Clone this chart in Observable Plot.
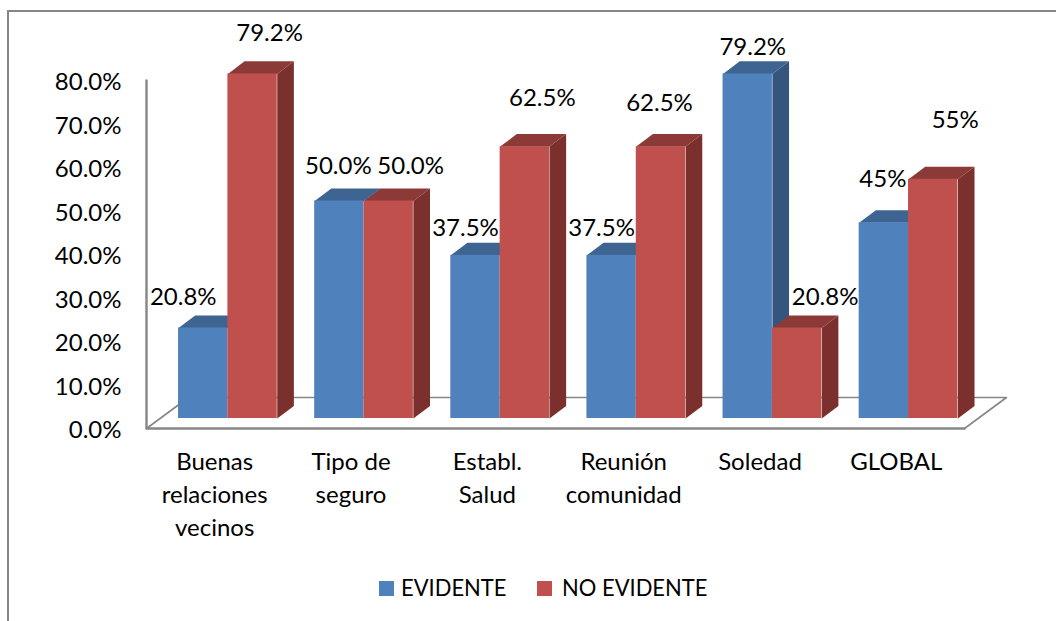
<!DOCTYPE html>
<html>
<head>
<meta charset="utf-8">
<script src="https://cdn.jsdelivr.net/npm/d3@7"></script>
<script src="https://cdn.jsdelivr.net/npm/@observablehq/plot@0.6"></script>
<style>
  html, body { margin: 0; padding: 0; background: #fff; overflow: hidden; width: 1056px; height: 621px; }
  #frame { position: absolute; left: 7px; top: 10px; right: 0; bottom: 0; border-left: 2px solid #868686; border-top: 2px solid #868686; pointer-events: none; }
  #chart { position: absolute; left: 0; top: 0; }
  #chart svg { display: block; }
  #legend { position: absolute; left: 0; top: 570px; width: 1056px; height: 36px; font: 24px Lato, sans-serif; color: #000; }
  #legend .sw { position: absolute; top: 11px; width: 15px; height: 15px; }
  #legend .tx { position: absolute; top: -1px; line-height: 36px; white-space: nowrap; transform-origin: left center; transform: scaleX(0.915); }
</style>
</head>
<body>
<div id="frame"></div>
<div id="chart"></div>
<div id="legend"></div>
<script>
const categories = ["Buenas\nrelaciones\nvecinos", "Tipo de\nseguro", "Establ.\nSalud", "Reunión\ncomunidad", "Soledad", "GLOBAL"];
const evidente = [20.8, 50.0, 37.5, 37.5, 79.2, 45];
const noEvidente = [79.2, 50.0, 62.5, 62.5, 20.8, 55];
const evidenteLabels = ["20.8%", "50.0%", "37.5%", "37.5%", "79.2%", "45%"];
const noEvidenteLabels = ["79.2%", "50.0%", "62.5%", "62.5%", "20.8%", "55%"];
const yTicks = [0, 10, 20, 30, 40, 50, 60, 70, 80];

// Layout (not data): hand placement of the data labels, in pixels, as in the reference
const evidenteNudge = [[-20, -30.5], [-1, -34.5], [-10, -27], [-10, -27], [5, -26.5], [-1, -43]];
const noEvidenteNudge = [[17, -40.5], [22, -34.5], [17.5, -48], [-1.5, -43], [28, -30.5], [22, -59]];

// Pseudo-3D geometry expressed in scale units
const barStart = 0.235, barWidth = 0.362, barPitch = 0.9985;
const baseLift = 2.3;              // bars stand a little behind the floor's front edge
const depthX = 0.122, depthY = 2.9; // bar depth
const floorX = 0.308, floorY = 7.13;
const nCat = categories.length;
const fontSize = 24;

const blue = {front: "#4F81BD", side: "#34567E", top: "#3E6592"};
const red = {front: "#C0504D", side: "#7B302E", top: "#8C3A38"};

const barX = (i, offset) => i * barPitch + barStart + offset;

function faces(values, offset, col, key) {
  const pts = [];
  values.forEach((v, i) => {
    const x0 = barX(i, offset), x1 = x0 + barWidth;
    const b = baseLift, t = baseLift + v;
    const add = (face, color, coords) => coords.forEach(([x, y]) => pts.push({x, y, z: `${key}-${i}-${face}`, color}));
    add("side", col.side, [[x1, b], [x1 + depthX, b + depthY], [x1 + depthX, t + depthY], [x1, t]]);
    add("top", col.top, [[x0, t], [x0 + depthX, t + depthY], [x1 + depthX, t + depthY], [x1, t]]);
  });
  return pts;
}
function fronts(values, offset) {
  return values.map((v, i) => ({x1: barX(i, offset), x2: barX(i, offset) + barWidth, y1: baseLift, y2: baseLift + v}));
}
const faceMark = (pts) => Plot.line(pts, {x: "x", y: "y", z: "z", fill: "color", stroke: null, curve: "linear"});
const frontMark = (values, offset, color) => Plot.rect(fronts(values, offset), {x1: "x1", x2: "x2", y1: "y1", y2: "y2", fill: color, inset: 0});

function labelMarks(values, labels, nudges, offset) {
  return values.map((v, i) => Plot.text([labels[i]], {
    x: () => barX(i, offset) + barWidth / 2,
    y: () => baseLift + v,
    text: d => d,
    dx: nudges[i][0],
    dy: nudges[i][1],
    fontSize,
    fill: "#000"
  }));
}

const grey = "#868686";
const plot = Plot.plot({
  width: 1056,
  height: 570,
  marginLeft: 146,
  marginRight: 92,
  marginTop: 80,
  marginBottom: 142,
  style: {fontFamily: "Lato, sans-serif", background: "transparent", overflow: "visible"},
  x: {domain: [0, nCat], axis: null},
  y: {domain: [0, 80], axis: null},
  color: {type: "identity"},
  marks: [
    // floor: back and side edges
    Plot.line([[0, 0], [floorX, floorY], [nCat + floorX, floorY], [nCat, 0]], {x: d => d[0], y: d => d[1], stroke: grey, strokeWidth: 1.6}),
    // floor front edge and value axis
    Plot.line([[0, 80], [0, 0], [nCat, 0]], {x: d => d[0], y: d => d[1], stroke: grey, strokeWidth: 2.4}),
    Plot.axisY({ticks: yTicks, tickSize: 0, tickPadding: 25, dy: 2, tickFormat: d => d.toFixed(1) + "%", label: null, fontSize, fill: "#000"}),
    faceMark(faces(evidente, 0, blue, "e")),
    frontMark(evidente, 0, blue.front),
    faceMark(faces(noEvidente, barWidth, red, "n")),
    frontMark(noEvidente, barWidth, red.front),
    ...labelMarks(evidente, evidenteLabels, evidenteNudge, 0),
    ...labelMarks(noEvidente, noEvidenteLabels, noEvidenteNudge, barWidth),
    Plot.text(categories, {
      x: (d, i) => i + 0.5,
      y: () => 0,
      text: d => d,
      dy: 18,
      lineAnchor: "top",
      lineHeight: 1.375,
      fontSize,
      fill: "#000"
    })
  ]
});
document.getElementById("chart").append(plot);

const legendItems = [
  {name: "EVIDENTE", color: blue.front, sw: 379, tx: 401},
  {name: "NO EVIDENTE", color: red.front, sw: 537, tx: 562}
];
const lg = document.getElementById("legend");
for (const it of legendItems) {
  const s = document.createElement("span"); s.className = "sw"; s.style.left = it.sw + "px"; s.style.background = it.color; lg.append(s);
  const t = document.createElement("span"); t.className = "tx"; t.style.left = it.tx + "px"; t.textContent = it.name; lg.append(t);
}
</script>
</body>
</html>
